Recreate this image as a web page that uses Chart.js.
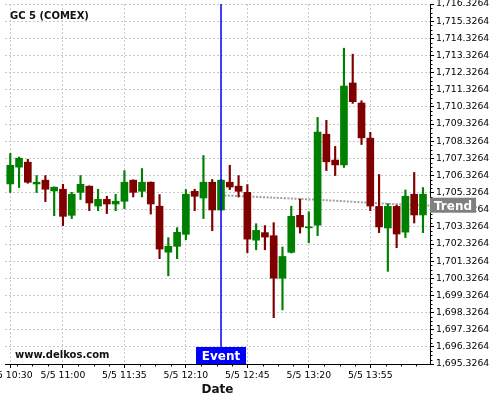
<!DOCTYPE html>
<html><head><meta charset="utf-8">
<script src="https://cdn.jsdelivr.net/npm/chart.js@4.4.1/dist/chart.umd.min.js"></script>
<style>html,body{margin:0;padding:0;background:#fff}</style>
</head><body>
<canvas id="c" width="500" height="400"></canvas>
<script>
const times = ['10:30','10:35','10:40','10:45','10:50','10:55','11:00','11:05','11:10','11:15','11:20','11:25',
  '11:30','11:35','11:40','11:45','11:50','11:55','12:00','12:05','12:10','12:15','12:20','12:25',
  '12:30','12:35','12:40','12:45','12:50','12:55','13:00','13:05','13:10','13:15','13:20','13:25',
  '13:30','13:35','13:40','13:45','13:50','13:55','14:00','14:05','14:10','14:15','14:20','14:25'];
const opens  = [1705.83,1706.81,1707.10,1705.83,1706.05,1705.42,1705.52,1704.00,1705.34,1705.70,1704.54,1704.93,
  1704.66,1704.82,1706.05,1705.40,1705.93,1704.53,1701.85,1702.19,1702.89,1705.40,1705.01,1705.93,
  1704.31,1705.93,1705.70,1705.34,1702.55,1702.99,1702.81,1700.33,1701.84,1704.00,1703.27,1703.43,
  1708.73,1707.22,1706.94,1711.72,1710.55,1708.50,1704.52,1703.26,1704.52,1703.02,1705.23,1704.02];
const highs  = [1707.61,1707.40,1707.27,1706.32,1706.32,1705.66,1705.81,1705.34,1706.32,1705.72,1705.52,1705.11,
  1705.23,1706.61,1706.07,1706.73,1705.95,1705.21,1702.70,1703.28,1705.50,1705.52,1707.49,1706.09,
  1706.10,1706.92,1706.32,1705.79,1703.51,1703.40,1703.57,1702.15,1704.53,1704.95,1704.21,1709.71,
  1709.54,1708.02,1713.75,1713.40,1710.68,1708.84,1706.38,1704.68,1704.60,1705.48,1706.50,1705.62];
const lows   = [1705.33,1705.62,1705.87,1705.33,1704.80,1703.98,1703.40,1703.81,1704.92,1704.27,1704.27,1704.10,
  1704.27,1704.39,1705.07,1705.07,1704.07,1701.47,1700.47,1701.47,1702.58,1704.27,1703.81,1703.10,
  1704.30,1705.50,1705.07,1701.82,1701.99,1701.99,1698.03,1698.48,1701.80,1702.96,1702.40,1702.81,
  1706.61,1706.32,1706.79,1710.53,1708.13,1704.27,1702.99,1700.73,1702.11,1702.70,1703.55,1702.99];
const closes = [1706.92,1707.33,1705.93,1705.93,1705.52,1705.64,1703.94,1705.23,1705.81,1704.72,1704.93,1704.66,
  1704.82,1705.93,1705.34,1705.93,1704.66,1702.03,1702.19,1703.01,1705.23,1705.11,1705.93,1704.31,
  1706.05,1705.65,1705.40,1702.61,1703.12,1702.73,1700.33,1701.60,1703.94,1703.32,1703.30,1708.85,
  1707.12,1706.94,1711.54,1710.63,1708.52,1704.54,1703.32,1704.52,1702.91,1705.11,1704.02,1705.23];
const xTickTimes  = ['10:30','11:00','11:35','12:10','12:45','13:20','13:55'];
const xTickLabels = ['5/5 10:30','5/5 11:00','5/5 11:35','5/5 12:10','5/5 12:45','5/5 13:20','5/5 13:55'];
const yTicks = [1695.3264,1696.3264,1697.3264,1698.3264,1699.3264,1700.3264,1701.3264,1702.3264,1703.3264,
  1704.3264,1705.3264,1706.3264,1707.3264,1708.3264,1709.3264,1710.3264,1711.3264,1712.3264,1713.3264,
  1714.3264,1715.3264,1716.3264];
const eventTime = '12:30';
const trendX = [24, 30, 36, 42, 47.8];
const trendY = [1705.17, 1705.03, 1704.88, 1704.70, 1704.56];
const titleText = 'GC 5 (COMEX)';
const watermark = 'www.delkos.com';

const GREEN = '#008000', RED = '#800000';
const colors = closes.map((c, i) => c >= opens[i] ? GREEN : RED);
const bodies = times.map((t, i) => ({x: i, y: [opens[i], closes[i]]}));
const wicks  = times.map((t, i) => ({x: i, y: [lows[i], highs[i]]}));
const eventIdx = times.indexOf(eventTime);
const FONT = 'DejaVu Sans';

const overlay = {
  id: 'overlay',
  afterDraw(chart) {
    const {ctx, chartArea: ca, scales: {x, y}} = chart;
    ctx.save();
    // minor ticks
    ctx.strokeStyle = '#000'; ctx.lineWidth = 1;
    const majors = xTickTimes.map(t => times.indexOf(t));
    const step = (majors[2] - majors[1]) / 4;
    const minorX = [];
    for (let v = majors[1] - step; v > x.min; v -= step) minorX.push(v);
    for (let k = 1; k < majors.length; k++) {
      const end = k + 1 < majors.length ? majors[k + 1] : x.max;
      for (let v = majors[k] + step; v < end - 0.01; v += step) minorX.push(v);
    }
    ctx.beginPath();
    minorX.forEach(v => { const px = Math.round(x.getPixelForValue(v)) + 0.5; ctx.moveTo(px, ca.bottom); ctx.lineTo(px, ca.bottom + 2.5); });
    for (let k = 0; k < yTicks.length - 1; k++) {
      for (let j = 1; j < 4; j++) {
        const py = Math.round(y.getPixelForValue(yTicks[k] + j * 0.25)) + 0.5;
        ctx.moveTo(ca.right, py); ctx.lineTo(ca.right + 2.5, py);
      }
    }
    ctx.stroke();
    // title + watermark
    ctx.fillStyle = '#111';
    ctx.font = 'bold 10px ' + FONT;
    ctx.textBaseline = 'alphabetic'; ctx.textAlign = 'left';
    ctx.fillText(titleText, ca.left + 5, 19);
    ctx.fillText(watermark, ca.left + 10, ca.bottom - 6.5);
    // event label
    const ex = x.getPixelForValue(eventIdx);
    ctx.fillStyle = '#0000ff';
    ctx.fillRect(ex - 25, ca.bottom - 17, 50, 17);
    ctx.fillStyle = '#fff';
    ctx.font = 'bold 12px ' + FONT;
    ctx.textAlign = 'center';
    ctx.fillText('Event', ex, ca.bottom - 4);
    // trend label
    const ty = y.getPixelForValue(trendY[trendY.length - 1]);
    ctx.fillStyle = '#808080';
    ctx.fillRect(ca.right, ty - 8, 46, 15);
    ctx.fillStyle = '#fff';
    ctx.textAlign = 'left';
    ctx.fillText('Trend', ca.right + 4, ty + 4);
    ctx.restore();
  }
};

new Chart(document.getElementById('c'), {
  type: 'bar',
  data: {
    datasets: [
      {type: 'line', data: [{x: eventIdx, y: yTicks[0]}, {x: eventIdx, y: yTicks[yTicks.length - 1]}],
        borderColor: '#0000ff', borderWidth: 1.5, pointRadius: 0, order: 0},
      {type: 'bar', data: bodies, backgroundColor: colors, borderWidth: 0, barThickness: 7, grouped: false, minBarLength: 1, order: 1},
      {type: 'bar', data: wicks, backgroundColor: colors, borderWidth: 0, barThickness: 1.5, grouped: false, order: 2},
      {type: 'line', data: trendX.map((v, i) => ({x: v, y: trendY[i]})), borderColor: '#a0a0a0', borderWidth: 2,
        borderDash: [2, 1.5], pointRadius: 0, tension: 0.3, order: 3}
    ]
  },
  options: {
    responsive: false, animation: false, devicePixelRatio: 1,
    layout: {padding: {left: 5, top: 4, right: 0, bottom: 0}},
    plugins: {legend: {display: false}, tooltip: {enabled: false}},
    scales: {
      x: {
        type: 'linear', min: -0.6, max: 47.8, offset: false,
        grid: {offset: false, color: '#c8c8c8', lineWidth: 1, tickLength: 4, tickColor: '#000'},
        border: {display: true, color: '#000', width: 1, dash: [2, 2]},
        afterBuildTicks: s => { s.ticks = xTickTimes.map(t => ({value: times.indexOf(t)})); },
        afterFit: s => { s.height = 36; s.paddingLeft = 0; s.paddingRight = 0; },
        ticks: {autoSkip: false, maxRotation: 0, minRotation: 0, padding: 2, color: '#000',
          font: {family: FONT, size: 9.3}, callback: (v, i) => xTickLabels[i]},
        title: {display: true, text: 'Date', color: '#111', font: {family: FONT, size: 12, weight: 'bold'},
          padding: {top: 0, bottom: 3}}
      },
      y: {
        type: 'linear', position: 'right', min: yTicks[0], max: yTicks[yTicks.length - 1],
        grid: {color: '#c8c8c8', lineWidth: 1, tickLength: 4, tickColor: '#000'},
        border: {display: true, color: '#000', width: 1, dash: [2, 2]},
        afterBuildTicks: s => { s.ticks = yTicks.map(v => ({value: v})); },
        afterFit: s => { s.width = 70; s.paddingTop = 0; s.paddingBottom = 0; },
        ticks: {padding: 2, color: '#000', font: {family: FONT, size: 9.3},
          callback: v => Number(v).toLocaleString('en-US', {minimumFractionDigits: 4, maximumFractionDigits: 4})}
      }
    }
  },
  plugins: [overlay]
});
</script>
</body></html>
